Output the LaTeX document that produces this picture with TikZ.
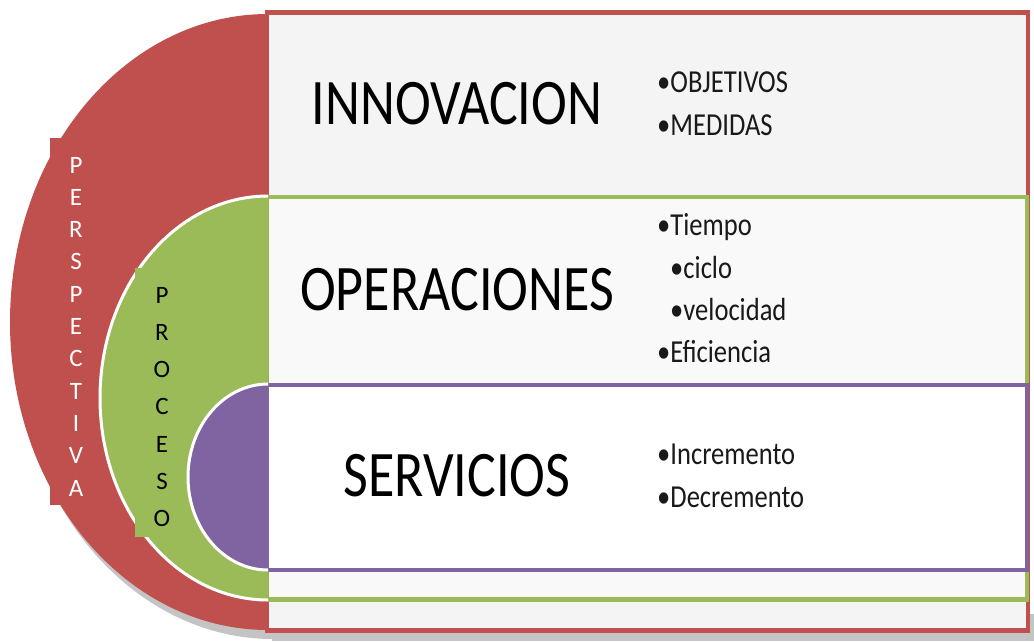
\documentclass[tikz,border=0pt]{standalone}
\usepackage{fontspec}
\setmainfont{Carlito}[FakeStretch=0.83]
\newfontfamily\plainfont{Carlito}
\definecolor{ored}{HTML}{C0504D}
\definecolor{ogreen}{HTML}{9BBB59}
\definecolor{opurple}{HTML}{8064A2}
\definecolor{fillA}{HTML}{F4F4F4}
\definecolor{fillB}{HTML}{F9F9F9}
\definecolor{shadowgray}{HTML}{C4C4C4}
\tikzset{
  band/.style={line width=4.5pt},
  halfdisc/.style={draw=white, line width=3pt},
  title/.style={anchor=base, inner sep=0pt, font=\fontsize{65}{70}\selectfont, text=black},
  item/.style={anchor=base west, inner sep=0pt, font=\fontsize{32}{34}\selectfont, text=black!90},
  vletter/.style={anchor=base, inner sep=0pt, font=\plainfont\fontsize{25}{27}\selectfont},
}
\begin{document}
\begin{tikzpicture}[x=1pt,y=-1pt]
\useasboundingbox (0,0) rectangle (1034,641);
\fill[white] (0,0) rectangle (1034,641);
% shadow
\begin{scope}
  \clip (0,470) rectangle (1034,641);
  \fill[shadowgray] (273,331) ellipse[x radius=258, y radius=308];
  \fill[shadowgray] (272,614) rectangle (1034,641);
\end{scope}
% bands
\draw[band, draw=ored, fill=fillA] (267,12.5) rectangle (1028,630.5);
\draw[band, draw=ogreen, fill=fillB] (267,197) rectangle (1027,599.5);
\draw[band, draw=opurple, fill=white] (267,385) rectangle (1027,570);
% half discs
\begin{scope}
  \clip (0,0) rectangle (268,641);
  \fill[ored] (268,322) ellipse[x radius=258, y radius=308];
\end{scope}
\fill[ored] (50,138) rectangle (95,505);
\begin{scope}
  \clip (0,0) rectangle (268,641);
  \filldraw[halfdisc, fill=ogreen] (268,398) ellipse[x radius=168, y radius=202];
\end{scope}
\fill[ogreen] (135,268) rectangle (183,537);
\begin{scope}
  \clip (0,0) rectangle (268,641);
  \filldraw[halfdisc, fill=opurple] (268,477) ellipse[x radius=80, y radius=93];
\end{scope}
% vertical labels
\foreach \l [count=\i] in {P,E,R,S,P,E,C,T,I,V,A}
  \node[vletter, text=white] (pv\i) at (76,{173+(\i-1)*32.3}) {\l};
\foreach \l [count=\i] in {P,R,O,C,E,S,O}
  \node[vletter, text=black] (pc\i) at (162,{303+(\i-1)*37.3}) {\l};
% titles
\node[title] (innov) at (457,124) {INNOVACION};
\node[title] (oper) at (457,310) {OPERACIONES};
\node[title] (serv) at (457,496) {SERVICIOS};
% items
\node[item] (i1) at (657,92) {•OBJETIVOS};
\node[item] (i2) at (657,135) {•MEDIDAS};
\node[item] (o1) at (657,235) {•Tiempo};
\node[item] (o2) at (670,278) {•ciclo};
\node[item] (o3) at (670,320) {•velocidad};
\node[item] (o4) at (657,362) {•Eficiencia};
\node[item] (s1) at (657,464) {•Incremento};
\node[item] (s2) at (657,507) {•Decremento};
\end{tikzpicture}
\end{document}
